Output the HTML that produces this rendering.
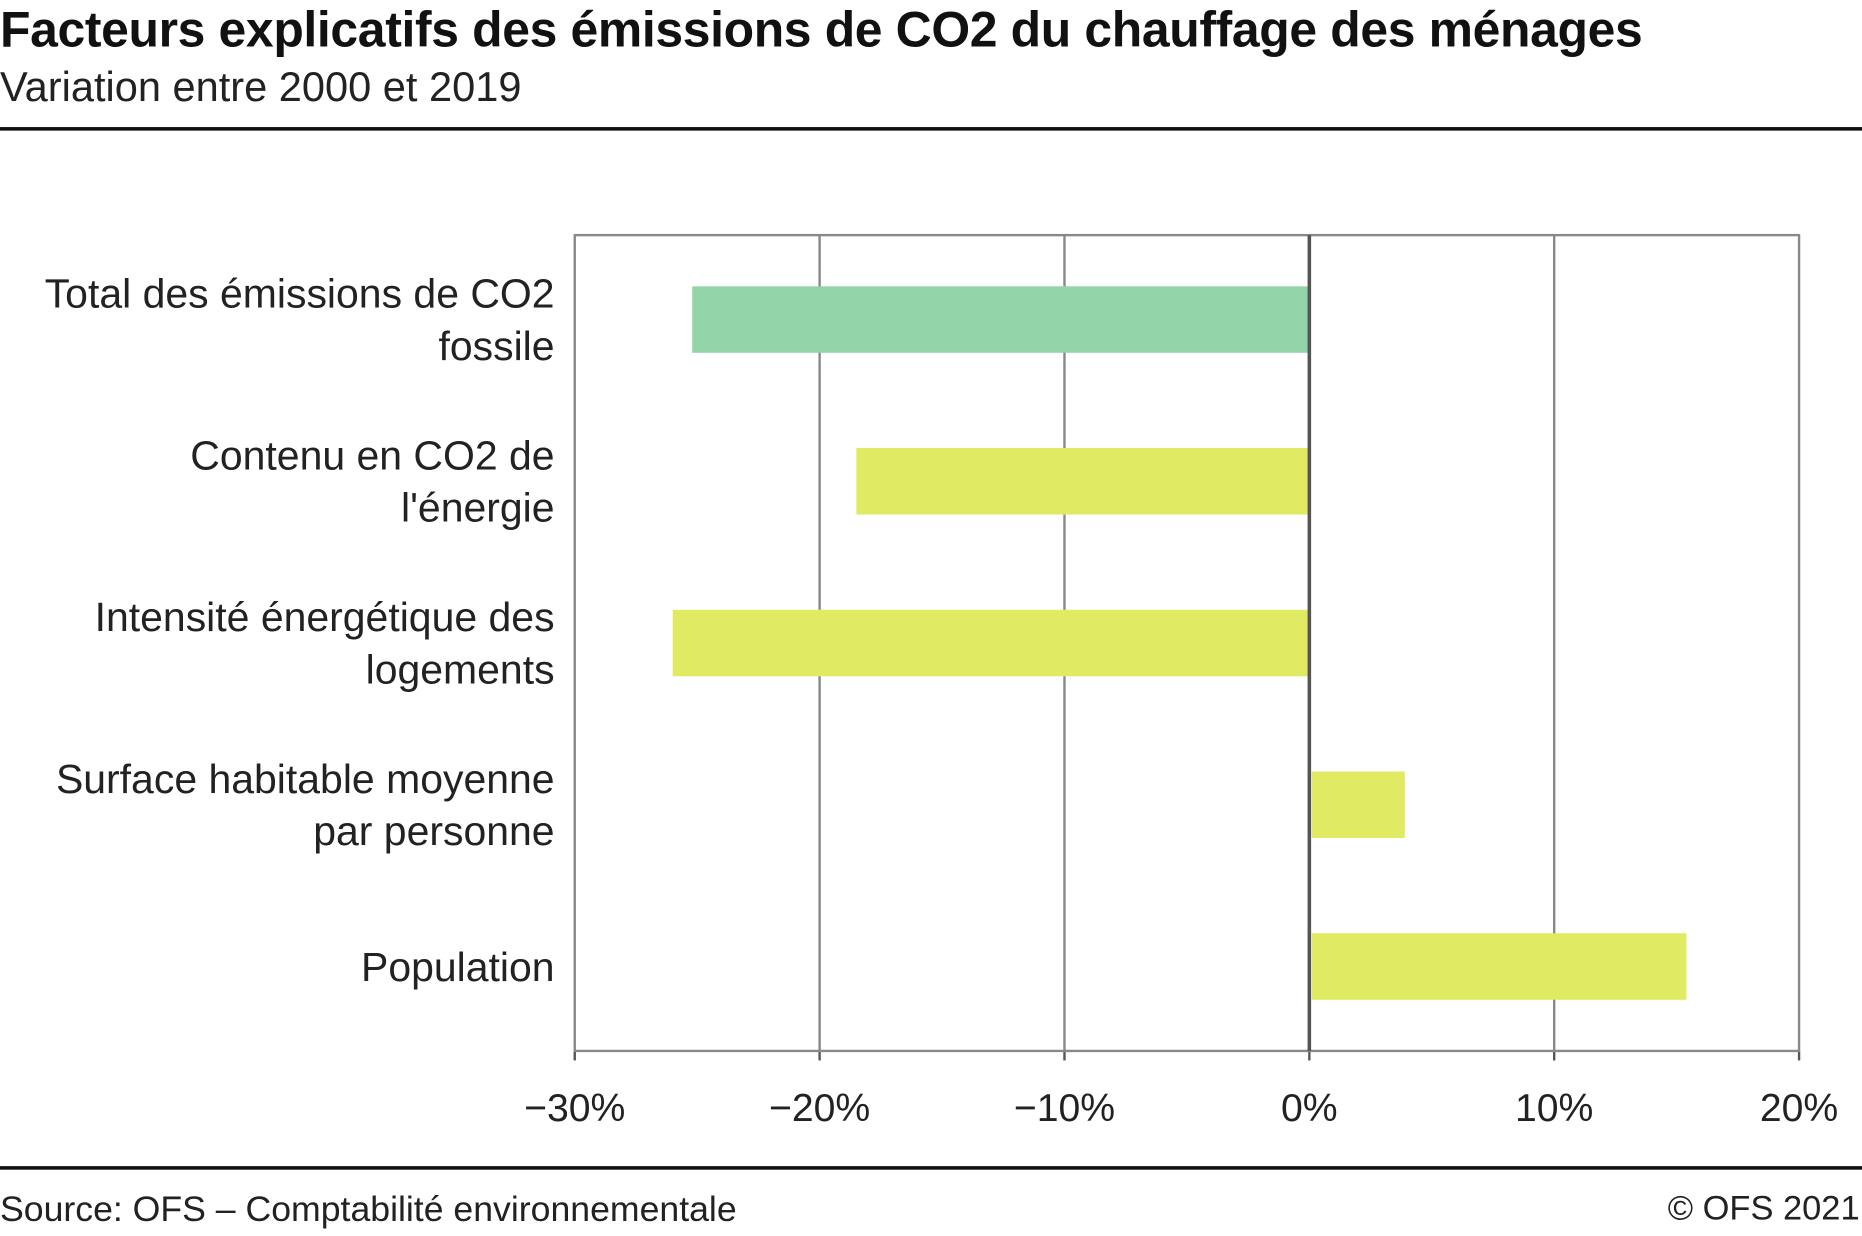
<!DOCTYPE html>
<html><head><meta charset="utf-8"><style>
html,body{margin:0;padding:0;background:#fff;overflow:hidden}
#wrap{width:1568px;height:1041px;transform:scale(1.1875);transform-origin:0 0;position:relative;font-family:"Liberation Sans",sans-serif;color:#111}
.t{position:absolute;white-space:nowrap}
</style></head><body>
<div id="wrap">
<div class="t" style="left:0;top:1px;font-size:42px;font-weight:bold;letter-spacing:-0.3px">Facteurs explicatifs des émissions de CO2 du chauffage des ménages</div>
<div class="t" style="left:0;top:54px;font-size:35px;color:#222">Variation entre 2000 et 2019</div>
<div style="position:absolute;left:0;top:107px;width:1568px;height:3px;background:#111"></div>
<svg id="chart" width="1568" height="1041" style="position:absolute;left:0;top:0"></svg>
<div style="position:absolute;left:0;top:982px;width:1568px;height:3px;background:#111"></div>
<div class="t" style="left:0;top:1002px;font-size:30px;color:#222">Source: OFS – Comptabilité environnementale</div>
<div class="t" style="right:2px;top:1002px;font-size:29px;color:#222">© OFS 2021</div>
</div>
<script>
const categories=[["Total des émissions de CO2","fossile"],["Contenu en CO2 de","l'énergie"],["Intensité énergétique des","logements"],["Surface habitable moyenne","par personne"],["Population"]];
const values=[-25.2,-18.5,-26.0,3.9,15.4];
const colors=["#93d4a9","#e0ea62","#e0ea62","#e0ea62","#e0ea62"];
const ticks=[-30,-20,-10,0,10,20];
const tickLabels=["−30%","−20%","−10%","0%","10%","20%"];
const L=484,R=1515,T=198,B=885;
const x=v=>L+(v-(-30))/(50)*(R-L);
const bandH=(B-T-6)/categories.length;
const y=i=>T+3+bandH*(i+0.5);
const svg=document.getElementById('chart');
const NS="http://www.w3.org/2000/svg";
function mk(t,a){const e=document.createElementNS(NS,t);for(const k in a)e.setAttribute(k,a[k]);svg.appendChild(e);return e;}
ticks.forEach((t,i)=>{
 if(t!==0&&t!==-30&&t!==20){const g=mk('line',{x1:x(t),x2:x(t),y1:T,y2:B,stroke:'#888','stroke-width':2});
 
 }
 const tk=mk('line',{x1:x(t),x2:x(t),y1:B,y2:B+8,stroke:'#555','stroke-width':2});
 
 
 const tl=mk('text',{x:x(t),y:B+59,'text-anchor':'middle','font-size':33,fill:'#222'});
 tl.textContent=tickLabels[i];
 
 
});
const frame=mk('rect',{x:L,y:T,width:R-L,height:B-T,fill:'none',stroke:'#888','stroke-width':2});


values.forEach((v,i)=>{
 const x0=v<0?x(v):x(0)+2, w=Math.abs(x(v)-x(0))-(v<0?0:2);
 const b=mk('rect',{x:x0,y:y(i)-28,width:w,height:56,fill:colors[i]});
 
 
 const lines=categories[i];
 lines.forEach((s,j)=>{
  const tt=mk('text',{x:467,y:y(i)+12+(j-(lines.length-1)/2)*44,'text-anchor':'end','font-size':34.5,fill:'#222'});
  tt.textContent=s;
  
  
 });
});
const z=mk('line',{x1:x(0),x2:x(0),y1:T,y2:B,stroke:'#555','stroke-width':3});


</script>
</body></html>
